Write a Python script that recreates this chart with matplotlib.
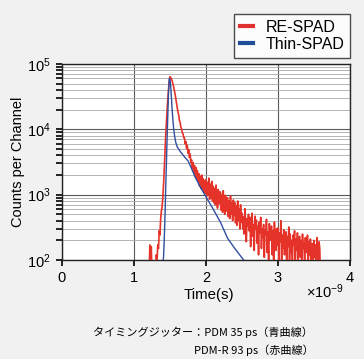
import matplotlib
matplotlib.use("Agg")
import matplotlib.pyplot as plt
import numpy as np
from matplotlib.ticker import LogLocator, NullFormatter, FixedLocator

plt.rcParams["font.family"] = ["Liberation Sans", "DejaVu Sans"]
plt.rcParams["mathtext.fontset"] = "custom"
plt.rcParams["mathtext.rm"] = "Liberation Sans"
plt.rcParams["mathtext.it"] = "Liberation Sans:italic"

# Thin-SPAD (blue), time in ns
blue_t = [1.38, 1.40, 1.41, 1.42, 1.43, 1.44, 1.45, 1.46, 1.47, 1.48, 1.49,
          1.50, 1.51, 1.52, 1.53, 1.54, 1.55, 1.56, 1.57, 1.58, 1.60, 1.62,
          1.64, 1.67, 1.70, 1.75, 1.80, 1.85, 1.90, 1.95, 2.00, 2.10, 2.20,
          2.30, 2.40, 2.50, 2.55, 2.60]
blue_counts = [70, 90, 110, 200, 450, 1200, 3000, 7500, 17000, 38000, 60000,
               58000, 45000, 30000, 20000, 14000, 10500, 8500, 7200, 6300, 5400, 5000,
               4600, 4200, 3800, 3300, 2500, 1850, 1450, 1150, 930, 600, 380,
               215, 150, 108, 92, 80]

# RE-SPAD (red), one channel every 10 ps from 1.20 ns to 3.60 ns
red_t0 = 1.20
red_step = 0.01
red_counts = [
    60, 60, 170, 60, 160, 60, 60, 60, 60, 60,                      # 1.20
    60, 120, 95, 170, 150, 280, 240, 420, 560, 650,                # 1.30
    900, 1400, 2400, 4500, 8000, 13000, 20000, 30000, 42000, 55000,  # 1.40
    64000, 62000, 59000, 55000, 50000, 45000, 40000, 35000, 30000, 26000,  # 1.50
    22000, 18500, 16800, 13800, 12800, 10800, 10300, 8900, 8600, 7500,     # 1.60
    7500, 6000, 6500, 5100, 5700, 4300, 4900, 3700, 4200, 3100,            # 1.70
    3400, 2500, 3100, 2200, 2800, 1900, 2600, 1750, 2350, 1600,            # 1.80
    2100, 1350, 1900, 1250, 2000, 1200, 1750, 1100, 1650, 1050,            # 1.90
    1700, 950, 1550, 1000, 1800, 850, 1450, 900, 1600, 800,                # 2.00
    1350, 750, 1250, 700, 1400, 800, 620, 1200, 720, 1100,                 # 2.10
    1100, 580, 1000, 540, 1150, 620, 500, 980, 560, 870,                   # 2.20
    900, 460, 800, 430, 950, 500, 740, 400, 830, 480,                      # 2.30
    750, 370, 680, 340, 800, 400, 600, 300, 700, 380,                      # 2.40
    520, 300, 460, 250, 610, 380, 190, 430, 330, 500,                      # 2.50
    280, 450, 160, 390, 520, 230, 350, 140, 470, 300,                      # 2.60
    410, 180, 330, 120, 380, 260, 450, 150, 300, 220,                      # 2.70
    350, 110, 290, 240, 420, 130, 270, 95, 360, 200,                       # 2.80
    250, 330, 120, 280, 90, 380, 210, 140, 300, 170,                       # 2.90
    310, 100, 260, 190, 400, 85, 240, 150, 290, 120,                       # 3.00
    220, 270, 80, 230, 160, 320, 100, 250, 130, 200,                       # 3.10
    90, 240, 170, 280, 75, 210, 140, 260, 95, 190,                         # 3.20
    230, 110, 200, 70, 250, 150, 180, 80, 220, 130,                        # 3.30
    170, 240, 85, 190, 120, 210, 70, 180, 140, 90,                         # 3.40
    200, 110, 170, 75, 220, 130, 90, 190, 150, 60,                         # 3.50
    60,                                                                    # 3.60
]
red_t = red_t0 + red_step * np.arange(len(red_counts))

x_ticks = [0, 1, 2, 3, 4]
y_ticks = [1e2, 1e3, 1e4, 1e5]
y_tick_labels = ["$10^2$", "$10^3$", "$10^4$", "$10^5$"]

W, H = 364, 359
fig = plt.figure(figsize=(W / 100, H / 100), dpi=100)
fig.patch.set_facecolor("#f1f1f1")
ax = fig.add_axes([62 / W, 1 - 260 / H, (350 - 62) / W, (260 - 64) / H])
ax.set_facecolor("white")

ax.plot(red_t, red_counts, color="#e6332a", lw=1.2, label="RE-SPAD", zorder=3)
ax.plot(blue_t, blue_counts, color="#2f4f9f", lw=1.0, label="Thin-SPAD", zorder=4)

ax.set_yscale("log")
ax.set_xlim(0, 4)
ax.set_ylim(1e2, 1e5)
ax.xaxis.set_major_locator(FixedLocator(x_ticks))
ax.set_xticklabels([str(v) for v in x_ticks])
ax.set_yticks(y_ticks)
ax.set_yticklabels(y_tick_labels)
ax.yaxis.set_minor_locator(LogLocator(base=10, subs=np.arange(2, 10)))
ax.yaxis.set_minor_formatter(NullFormatter())

ax.grid(True, which="major", axis="both", color="#5a5a5a", lw=0.8, zorder=1)
ax.grid(True, which="minor", axis="y", color="#a8a8a8", lw=0.6, zorder=1)
ax.set_axisbelow(True)

ax.tick_params(axis="both", which="major", labelsize=10.5, length=4, width=1.2,
               direction="out", pad=4, top=False, right=False)
ax.tick_params(axis="y", which="minor", length=4, width=1.2, direction="out", right=False)
for sp in ax.spines.values():
    sp.set_color("#222222")
    sp.set_linewidth(1.0)

fig.text(209 / W, 1 - 295 / H, "Time(s)", ha="center", va="center", fontsize=10.8)
fig.text(306 / W, 1 - 292 / H, r"$\times10^{-9}$", ha="left", va="center", fontsize=10.5)
fig.text(18 / W, 1 - 162 / H, "Counts per Channel", ha="center", va="center",
         rotation=90, fontsize=10.5)

leg = fig.legend(loc="upper right", bbox_to_anchor=(350 / W, 1 - 14 / H),
                 fontsize=11.5, frameon=True, fancybox=False, handlelength=0.8,
                 handletextpad=0.8, borderpad=0.35, labelspacing=0.15, borderaxespad=0)
leg.get_frame().set_edgecolor("#222222")
leg.get_frame().set_linewidth(1.0)
leg.get_frame().set_facecolor("white")
for line, c in zip(leg.get_lines(), ["#e03030", "#1f4e9a"]):
    line.set_linewidth(3)
    line.set_color(c)

cap = ["Noto Sans CJK JP", "DejaVu Sans"]
fig.text(93 / W, 1 - 332 / H, "タイミングジッター：PDM 35 ps（青曲線）", ha="left",
         va="center", fontsize=8, family=cap)
fig.text(194 / W, 1 - 350 / H, "PDM-R 93 ps（赤曲線）", ha="left",
         va="center", fontsize=8, family=cap)

fig.savefig("out.png", dpi=100, facecolor=fig.get_facecolor())
